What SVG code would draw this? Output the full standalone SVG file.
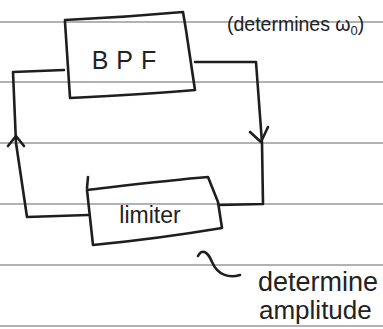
<svg xmlns="http://www.w3.org/2000/svg" width="383" height="329" viewBox="0 0 383 329">
  <style>
    .rule { stroke: #999999; stroke-width: 1.3; }
    .ink { fill: none; stroke: #1e1e1e; stroke-width: 2.6; stroke-linejoin: round; stroke-linecap: round; }
    .label { font-family: "Liberation Sans", "DejaVu Sans", sans-serif; fill: #222; }
  </style>
  <rect width="383" height="329" fill="#ffffff"/>

  <!-- ruled paper lines -->
  <g id="paper">
    <line class="rule" x1="0" y1="22" x2="383" y2="22"/>
    <line class="rule" x1="0" y1="82" x2="383" y2="82"/>
    <line class="rule" x1="0" y1="143" x2="383" y2="143"/>
    <line class="rule" x1="0" y1="204" x2="383" y2="204"/>
    <line class="rule" x1="0" y1="265" x2="383" y2="265"/>
    <line class="rule" x1="0" y1="326" x2="383" y2="326"/>
  </g>

  <!-- band-pass filter block -->
  <g id="bpf">
    <path class="ink" d="M65,20 C110,18 150,15 183,12 L186,30 L195,90 C150,94 110,96 70,98 L65,22 Z"/>
    <text class="label" x="128" y="69" font-size="25" text-anchor="middle" letter-spacing="8">BPF</text>
  </g>

  <!-- limiter block -->
  <g id="limiter">
    <path class="ink" d="M87,188 L88,177 M87,190 C130,185 170,180 208,177 L218,202 L222,228 C180,235 135,241 93,245 L87,190 Z"/>
    <text class="label" x="150" y="223" font-size="23" text-anchor="middle">limiter</text>
  </g>

  <!-- feedback loop -->
  <g id="connectors">
    <path class="ink" d="M195,62 L256,62 L262,143 L263,204 L219,205"/>
    <path class="ink" d="M250,132 L261,142 L268,127"/>
    <path class="ink" d="M64,70 L13,72 L16,143 L27,217 L88,215"/>
    <path class="ink" d="M8,146 L16,136 L24,146"/>
  </g>

  <!-- notes -->
  <g id="notes">
    <text class="label" x="227" y="31" font-size="19.5">(determines ω<tspan font-size="13" dy="4">0</tspan><tspan dy="-4">)</tspan></text>
    <path class="ink" d="M198,256 C202,248 208,252 212,262 C218,276 230,278 240,275"/>
    <text class="label" x="258" y="291" font-size="27">determine</text>
    <text class="label" x="259" y="319" font-size="26">amplitude</text>
  </g>
</svg>
